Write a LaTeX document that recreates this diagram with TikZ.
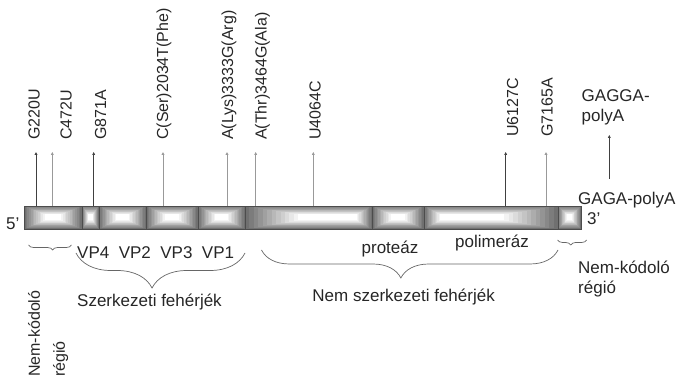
\documentclass[tikz,border=0pt]{standalone}
\usepackage{fontspec}
\setmainfont{Liberation Sans}
\usetikzlibrary{decorations.pathreplacing,arrows.meta}

\newcommand\gseg[4]{%
  \foreach \i in {0,...,12}{%
    \pgfmathsetmacro\cc{56*(1-\i/12)}%
    \pgfmathsetmacro\xa{#1+(#2-#1)*#3*\i/12}%
    \pgfmathsetmacro\xb{#2-(#2-#1)*#4*\i/12}%
    \pgfmathsetmacro\ya{206+8.5*\i/12}%
    \pgfmathsetmacro\yb{229-8.5*\i/12}%
    \fill[black!\cc] (\xa,\ya) rectangle (\xb,\yb);}%
  \draw[segline] (#1,206) rectangle (#2,229);}

\begin{document}
\begin{tikzpicture}[x=1pt,y=-1pt,
  lbl/.style={inner sep=0pt, text=black!85, font=\fontsize{17}{20}\selectfont},
  rlbl/.style={inner sep=0pt, text=black!85, font=\fontsize{16}{19}\selectfont, rotate=90, anchor=west},
  darr/.style={draw=black!75, line width=0.7pt, -{Triangle[length=3pt,width=2.8pt]}},
  larr/.style={draw=black!40, line width=0.9pt, -{Triangle[length=3pt,width=2.8pt]}},
  brc/.style={draw=black!60, line width=0.7pt, decorate},
  segline/.style={draw=black!70, line width=0.8pt}]
\useasboundingbox (0,0) rectangle (678,379);

% genome bar
\gseg{24}{82}{0.36}{0.36}
\gseg{82}{99}{0.36}{0.36}
\gseg{99}{146}{0.36}{0.36}
\gseg{146}{198}{0.36}{0.36}
\gseg{198}{245}{0.36}{0.36}
\gseg{245}{372}{0.42}{0.12}
\gseg{372}{424}{0.36}{0.36}
\gseg{424}{558}{0.12}{0.4}
\gseg{558}{581}{0.38}{0.38}

% mutation arrows
\foreach \n/\x/\s in {1/36/darr,2/52.3/larr,3/93.7/darr,4/163/larr,5/227/larr,6/255.7/larr,7/313.3/larr,8/505.7/darr,9/546/larr}{
  \coordinate (p\n) at (\x,206);
  \coordinate (q\n) at (\x,152);
  \draw[\s] (p\n) -- (q\n);
}
\coordinate (gb) at (609.3,179);
\coordinate (gt) at (609.3,135);
\draw[darr] (gb) -- (gt);

% rotated mutation labels
\node[rlbl] (m1) at (34,140) {G220U};
\node[rlbl] (m2) at (66,140) {C472U};
\node[rlbl] (m3) at (100.5,140) {G871A};
\node[rlbl] (m4) at (164,140) {C(Ser)2034T(Phe)};
\node[rlbl] (m5) at (229,140) {A(Lys)3333G(Arg)};
\node[rlbl] (m6) at (262.5,140) {A(Thr)3464G(Ala)};
\node[rlbl] (m7) at (315,140) {U4064C};
\node[rlbl] (m8) at (512.7,137) {U6127C};
\node[rlbl] (m9) at (547,137) {G7165A};

% end labels
\node[lbl, anchor=base west] (five) at (6,230) {5’};
\node[lbl, anchor=base west] (three) at (587,225) {3’};
\node[lbl, anchor=base west] (gaga) at (578,205) {GAGA-polyA};
\node[lbl, anchor=north west, align=left] (gagga) at (581.5,89.5) {GAGGA-\\polyA};

% braces
\coordinate (bl1) at (28.5,245); \coordinate (bl2) at (71.5,245);
\draw[brc, decoration={brace, mirror, amplitude=5pt, aspect=0.56}] (bl1) -- (bl2);
\coordinate (bs1) at (76,253); \coordinate (bs2) at (245,253);
\draw[brc, decoration={brace, mirror, amplitude=35pt, aspect=0.45}] (bs1) -- (bs2);
\coordinate (bn1) at (261.5,250); \coordinate (bn2) at (558,250);
\draw[brc, decoration={brace, mirror, amplitude=28pt, aspect=0.47}] (bn1) -- (bn2);
\coordinate (br1) at (557.7,240); \coordinate (br2) at (586.7,240);
\draw[brc, decoration={brace, mirror, amplitude=5pt, aspect=0.45}] (br1) -- (br2);

% region labels
\node[lbl, anchor=base west] (vp) at (77,259) {VP4~~VP2~~VP3~~VP1};
\node[lbl, anchor=base west] (szf) at (77,307) {Szerkezeti fehérjék};
\node[lbl, anchor=base] (prot) at (390,254) {proteáz};
\node[lbl, anchor=base] (pol) at (492,248) {polimeráz};
\node[lbl, anchor=base east] (nszf) at (495,302) {Nem szerkezeti fehérjék};
\node[lbl, anchor=north west, align=left] (nkr) at (578,261) {Nem-kódoló\\régió};
\node[lbl, anchor=north west, align=left, rotate=90, font=\fontsize{16}{19}\selectfont] (nkl) at (28,377) {Nem-kódoló\\[6pt]régió};
\end{tikzpicture}
\end{document}
